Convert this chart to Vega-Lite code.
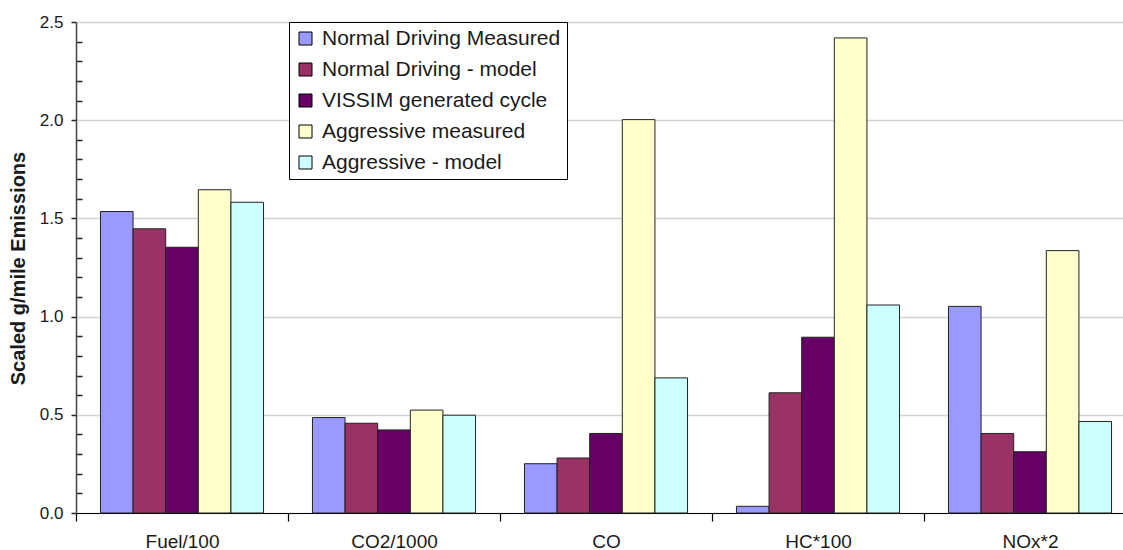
{
  "$schema": "https://vega.github.io/schema/vega-lite/v6.json",
  "width": 1060,
  "height": 491,
  "autosize": {"type": "none"},
  "padding": {"left": 76, "top": 22, "right": -13, "bottom": 37},
  "background": "white",
  "config": {"view": {"stroke": null}, "font": "Liberation Sans"},
  "data": {
    "values": [
      {"pollutant": "Fuel/100", "series": "Normal Driving Measured", "value": 1.535},
      {"pollutant": "Fuel/100", "series": "Normal Driving - model", "value": 1.447},
      {"pollutant": "Fuel/100", "series": "VISSIM generated cycle", "value": 1.353},
      {"pollutant": "Fuel/100", "series": "Aggressive measured", "value": 1.646},
      {"pollutant": "Fuel/100", "series": "Aggressive - model", "value": 1.582},
      {"pollutant": "CO2/1000", "series": "Normal Driving Measured", "value": 0.486},
      {"pollutant": "CO2/1000", "series": "Normal Driving - model", "value": 0.457},
      {"pollutant": "CO2/1000", "series": "VISSIM generated cycle", "value": 0.423},
      {"pollutant": "CO2/1000", "series": "Aggressive measured", "value": 0.524},
      {"pollutant": "CO2/1000", "series": "Aggressive - model", "value": 0.498},
      {"pollutant": "CO", "series": "Normal Driving Measured", "value": 0.251},
      {"pollutant": "CO", "series": "Normal Driving - model", "value": 0.28},
      {"pollutant": "CO", "series": "VISSIM generated cycle", "value": 0.405},
      {"pollutant": "CO", "series": "Aggressive measured", "value": 2.003},
      {"pollutant": "CO", "series": "Aggressive - model", "value": 0.688},
      {"pollutant": "HC*100", "series": "Normal Driving Measured", "value": 0.034},
      {"pollutant": "HC*100", "series": "Normal Driving - model", "value": 0.612},
      {"pollutant": "HC*100", "series": "VISSIM generated cycle", "value": 0.895},
      {"pollutant": "HC*100", "series": "Aggressive measured", "value": 2.419},
      {"pollutant": "HC*100", "series": "Aggressive - model", "value": 1.059},
      {"pollutant": "NOx*2", "series": "Normal Driving Measured", "value": 1.052},
      {"pollutant": "NOx*2", "series": "Normal Driving - model", "value": 0.405},
      {"pollutant": "NOx*2", "series": "VISSIM generated cycle", "value": 0.312},
      {"pollutant": "NOx*2", "series": "Aggressive measured", "value": 1.336},
      {"pollutant": "NOx*2", "series": "Aggressive - model", "value": 0.466}
    ]
  },
  "layer": [
    {
      "mark": {"type": "rule", "strokeOpacity": 0},
      "encoding": {
        "y": {
          "field": "value",
          "type": "quantitative",
          "scale": {"domain": [0, 2.5], "nice": false, "zero": true},
          "axis": {
            "orient": "left",
            "offset": -6,
            "values": [0.1, 0.2, 0.3, 0.4, 0.6, 0.7, 0.8, 0.9, 1.1, 1.2, 1.3, 1.4, 1.6, 1.7, 1.8, 1.9, 2.1, 2.2, 2.3, 2.4],
            "tickSize": 6,
            "tickColor": "#222222",
            "tickWidth": 1.5,
            "labels": false,
            "domain": false,
            "grid": false,
            "title": null
          }
        }
      }
    },
    {
      "mark": {"type": "bar", "stroke": "#222222", "strokeWidth": 1},
      "encoding": {
        "x": {
          "field": "pollutant",
          "type": "nominal",
          "sort": ["Fuel/100", "CO2/1000", "CO", "HC*100", "NOx*2"],
          "scale": {"paddingInner": 0, "paddingOuter": 0},
          "axis": {
            "title": null,
            "labelAngle": 0,
            "tickBand": "extent",
            "tickSize": 8,
            "tickColor": "#000000",
            "tickWidth": 1.2,
            "domainColor": "#000000",
            "domainWidth": 1.2,
            "labelPadding": 11,
            "labelFontSize": 19,
            "labelColor": "#1a1a1a",
            "grid": false
          }
        },
        "xOffset": {
          "field": "series",
          "type": "nominal",
          "sort": ["Normal Driving Measured", "Normal Driving - model", "VISSIM generated cycle", "Aggressive measured", "Aggressive - model"],
          "scale": {"paddingInner": 0, "paddingOuter": 0.75}
        },
        "y": {
          "field": "value",
          "type": "quantitative",
          "scale": {"domain": [0, 2.5], "nice": false, "zero": true},
          "axis": {
            "orient": "left",
            "values": [0, 0.5, 1.0, 1.5, 2.0, 2.5],
            "format": ".1f",
            "tickSize": 5,
            "grid": true,
            "gridColor": "#d2d2d2",
            "gridWidth": 1.5,
            "domainColor": "#444444",
            "domainWidth": 1.5,
            "tickColor": "#222222",
            "tickWidth": 1.5,
            "labelFontSize": 17,
            "labelColor": "#1a1a1a",
            "labelPadding": 8,
            "title": "Scaled g/mile Emissions",
            "titleFontSize": 20,
            "titleFontWeight": "bold",
            "titleColor": "#1a1a1a",
            "titleX": -58,
            "titleY": 246,
            "titleAngle": -90,
            "titleAlign": "center",
            "titleBaseline": "middle"
          }
        },
        "color": {
          "field": "series",
          "type": "nominal",
          "sort": ["Normal Driving Measured", "Normal Driving - model", "VISSIM generated cycle", "Aggressive measured", "Aggressive - model"],
          "scale": {
            "domain": ["Normal Driving Measured", "Normal Driving - model", "VISSIM generated cycle", "Aggressive measured", "Aggressive - model"],
            "range": ["#9999FF", "#993366", "#660066", "#FFFFCC", "#CCFFFF"]
          },
          "legend": {
            "orient": "none",
            "legendX": 213,
            "legendY": 0,
            "title": null,
            "fillColor": "white",
            "strokeColor": "#000000",
            "padding": 6,
            "labelFontSize": 21,
            "labelColor": "#1a1a1a",
            "labelLimit": 400,
            "labelOffset": 6,
            "symbolType": "square",
            "symbolSize": 169,
            "symbolStrokeColor": "#000000",
            "symbolStrokeWidth": 1,
            "symbolOpacity": 1,
            "rowPadding": 9
          }
        }
      }
    }
  ],
  "resolve": {"scale": {"y": "independent"}, "axis": {"y": "independent"}}
}
